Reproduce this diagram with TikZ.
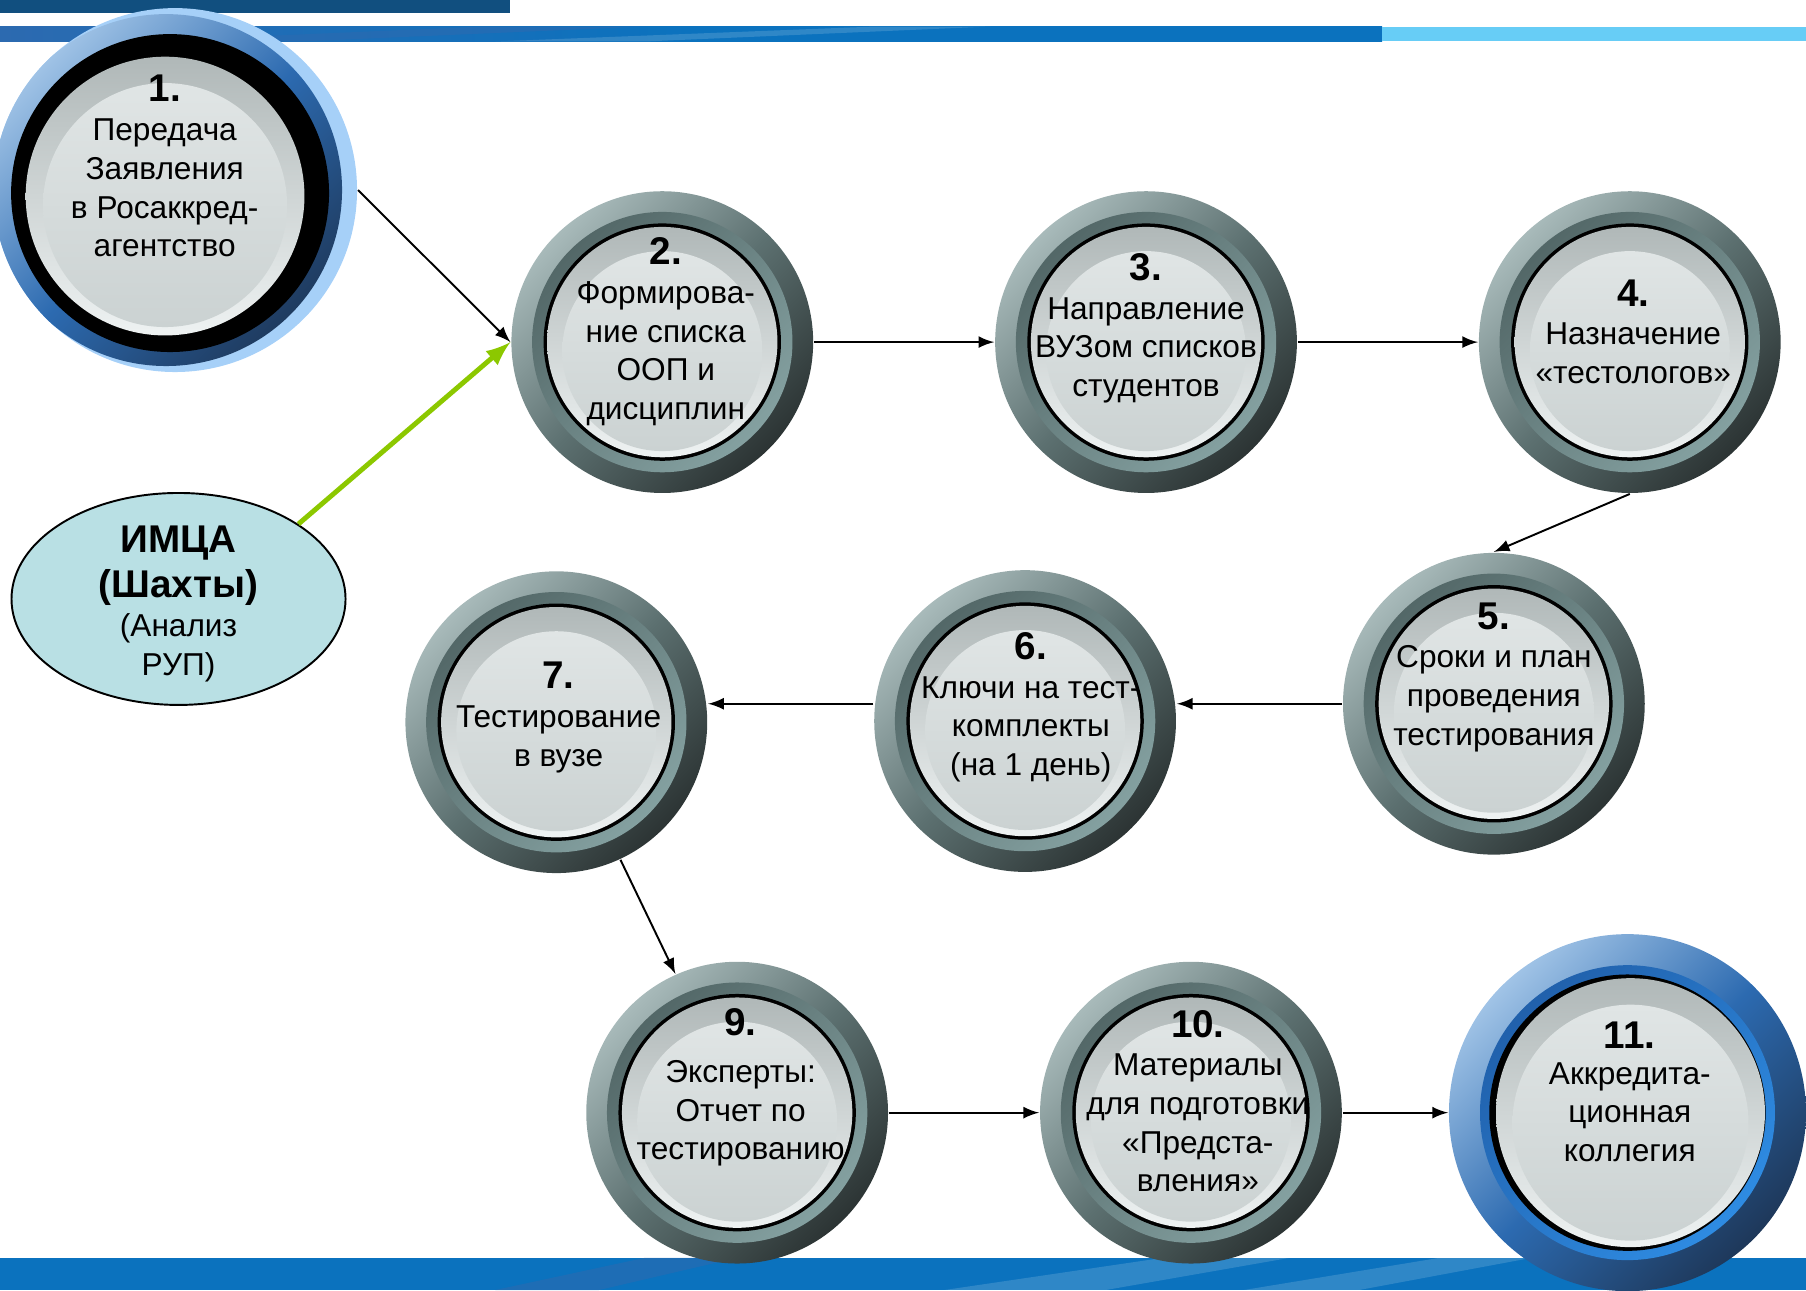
\documentclass[tikz,border=0pt]{standalone}
\usepackage{fontspec}
\setmainfont{Liberation Sans}
\usetikzlibrary{shapes.geometric}

\definecolor{ccbandeau}{RGB}{17,79,127}
\definecolor{ccbleu}{RGB}{11,114,190}
\definecolor{ccciel}{RGB}{103,205,246}
\definecolor{ccvert}{RGB}{140,200,0}
\definecolor{cclagon}{RGB}{185,224,228}
\definecolor{ccgrisclair}{RGB}{168,186,186}
\definecolor{ccgrismoyen}{RGB}{92,112,112}
\definecolor{ccgrisfonce}{RGB}{44,52,52}
\definecolor{ccardoise}{RGB}{79,99,99}
\definecolor{ccardoiseclair}{RGB}{136,165,165}
\definecolor{ccperle}{RGB}{176,184,184}
\definecolor{ccneige}{RGB}{238,242,242}
\definecolor{ccnuage}{RGB}{224,229,229}
\definecolor{ccbrume}{RGB}{203,210,210}
\definecolor{ccazurclair}{RGB}{160,195,230}
\definecolor{ccazur}{RGB}{44,106,176}
\definecolor{ccmarine}{RGB}{30,56,90}
\definecolor{cceclat}{RGB}{166,208,248}
\definecolor{ccroi}{RGB}{31,92,166}
\definecolor{ccroiclair}{RGB}{48,144,232}

\newcommand{\gros}[1]{\textbf{\fontsize{11}{13}\selectfont #1}}

\begin{document}
\begin{tikzpicture}[x=0.01152cm, y=-0.01152cm, >=latex, line width=0.55pt,
  stage/.style={circle, minimum size=3.018cm, inner sep=0pt,
    top color=ccgrisclair, bottom color=ccgrisfonce, middle color=ccgrismoyen, shading angle=45,
    path picture={
      \shade[top color=ccardoise, bottom color=ccardoiseclair, shading angle=45] (path picture bounding box.center) circle (1.302cm);
      \fill[black] (path picture bounding box.center) circle (1.187cm);
      \shade[top color=ccperle, bottom color=ccneige] (path picture bounding box.center) circle (1.152cm);
      \shade[top color=ccnuage, bottom color=ccbrume] ([yshift=-0.09cm]path picture bounding box.center) circle (1.0cm);
    }},
  depart/.style={circle, minimum size=3.64cm, inner sep=0pt, fill=cceclat,
    path picture={
      \shade[top color=ccazurclair, bottom color=ccmarine, middle color=ccazur, shading angle=45] ([xshift=-0.09cm]path picture bounding box.center) circle (1.76cm);
      \fill[black] ([shift={(-0.05cm,-0.03cm)}]path picture bounding box.center) circle (1.59cm);
      \shade[top color=ccperle, bottom color=ccneige] ([shift={(-0.1cm,-0.06cm)}]path picture bounding box.center) circle (1.394cm);
      \shade[top color=ccnuage, bottom color=ccbrume] ([shift={(-0.1cm,-0.15cm)}]path picture bounding box.center) circle (1.22cm);
    }},
  arrivee/.style={circle, minimum size=3.571cm, inner sep=0pt,
    top color=ccazurclair, bottom color=ccmarine, middle color=ccazur, shading angle=45,
    path picture={
      \shade[top color=ccroi, bottom color=ccroiclair, shading angle=45] (path picture bounding box.center) circle (1.475cm);
      \fill[black] (path picture bounding box.center) circle (1.382cm);
      \shade[top color=ccperle, bottom color=ccneige] ([xshift=0.03cm]path picture bounding box.center) circle (1.345cm);
      \shade[top color=ccnuage, bottom color=ccbrume] ([shift={(0.03cm,-0.1cm)}]path picture bounding box.center) circle (1.18cm);
    }},
  txt/.style={align=center, font=\fontsize{9}{11}\selectfont, inner sep=0pt}]

  \useasboundingbox (0,0) rectangle (1568,1120);

  % Bandeau haut
  \fill[ccbandeau] (0,0) rectangle (443,11);
  \shade[left color=ccazur, right color=ccbleu, middle color=ccbleu] (0,23) rectangle (1200,36);
  \fill[ccazur, opacity=0.6] (120,36) -- (420,23) -- (560,23) -- (260,36) -- cycle;
  \fill[white, opacity=0.15] (430,36) -- (760,23) -- (860,23) -- (560,36) -- cycle;
  \fill[ccciel] (1200,23) rectangle (1568,36);

  % Bandeau bas
  \fill[ccbleu] (0,1092) rectangle (1568,1120);
  \fill[ccazur, opacity=0.6] (430,1120) -- (560,1092) -- (640,1092) -- (520,1120) -- cycle;
  \fill[white, opacity=0.15] (820,1120) -- (1010,1092) -- (1120,1092) -- (960,1120) -- cycle;
  \fill[white, opacity=0.15] (1080,1120) -- (1250,1092) -- (1330,1092) -- (1180,1120) -- cycle;

  % Etapes
  \draw (152,165) node[depart] (zayavlenie) {};
  \draw (575,297) node[stage] (spisok) {};
  \draw (995,297) node[stage] (napravlenie) {};
  \draw (1415,297) node[stage] (testologi) {};
  \draw (1297,611) node[stage] (sroki) {};
  \draw (890,626) node[stage] (klyuchi) {};
  \draw (483,627) node[stage] (testirovanie) {};
  \draw (640,966) node[stage] (eksperty) {};
  \draw (1034,966) node[stage] (materialy) {};
  \draw (1413,966) node[arrivee] (kollegiya) {};

  % IMCA
  \draw (155,520) node[ellipse, draw, fill=cclagon, minimum width=3.341cm, minimum height=2.12cm] (imca) {};

  % Fleches
  \draw[->] (zayavlenie.east) -- (spisok.west);
  \draw[->, line width=1.4pt, ccvert] (imca.32) -- (spisok.west);
  \draw[->] (spisok.east) -- (napravlenie.west);
  \draw[->] (napravlenie.east) -- (testologi.west);
  \draw[->] (testologi.south) -- (sroki.north);
  \draw[->] (sroki.west) -- (sroki.west -| klyuchi.east);
  \draw[->] (klyuchi.west |- sroki.west) -- (testirovanie.east |- sroki.west);
  \draw[->] (testirovanie.-65) -- (eksperty.114);
  \draw[->] (eksperty.east) -- (materialy.west);
  \draw[->] (materialy.east) -- (kollegiya.west);

  % Textes
  \draw (155,524) node[txt] (imcatxt) {\gros{ИМЦА}\\[2pt]\gros{(Шахты)}\\(Анализ\\РУП)};
  \draw (143,144) node[txt] (zayavlenietxt) {\gros{1.}\\[0.2pt]Передача\\Заявления\\в Росаккред-\\агентство};
  \draw (578,288) node[txt] (spisoktxt) {\gros{2.}\\Формирова-\\ние списка\\ООП и\\дисциплин};
  \draw (995,285) node[txt] (napravlenietxt) {\gros{3.}\\Направление\\ВУЗом списков\\студентов};
  \draw (1418,288) node[txt] (testologitxt) {\gros{4.}\\Назначение\\«тестологов»};
  \draw (1297,588) node[txt] (srokitxt) {\gros{5.}\\Сроки и план\\проведения\\тестирования};
  \draw (895,614) node[txt] (klyuchitxt) {\gros{6.}\\Ключи на тест-\\комплекты\\(на 1 день)};
  \draw (485,623) node[txt] (testirovanietxt) {\gros{7.}\\Тестирование\\в вузе};
  \draw (643,944) node[txt] (ekspertytxt) {\gros{9.}\\[2.4pt]Эксперты:\\Отчет по\\тестированию};
  \draw (1040,956) node[txt] (materialytxt) {\gros{10.}\\Материалы\\для подготовки\\«Предста-\\вления»};
  \draw (1415,948) node[txt] (kollegiyatxt) {\gros{11.}\\[-0.8pt]Аккредита-\\ционная\\коллегия};

\end{tikzpicture}
\end{document}
